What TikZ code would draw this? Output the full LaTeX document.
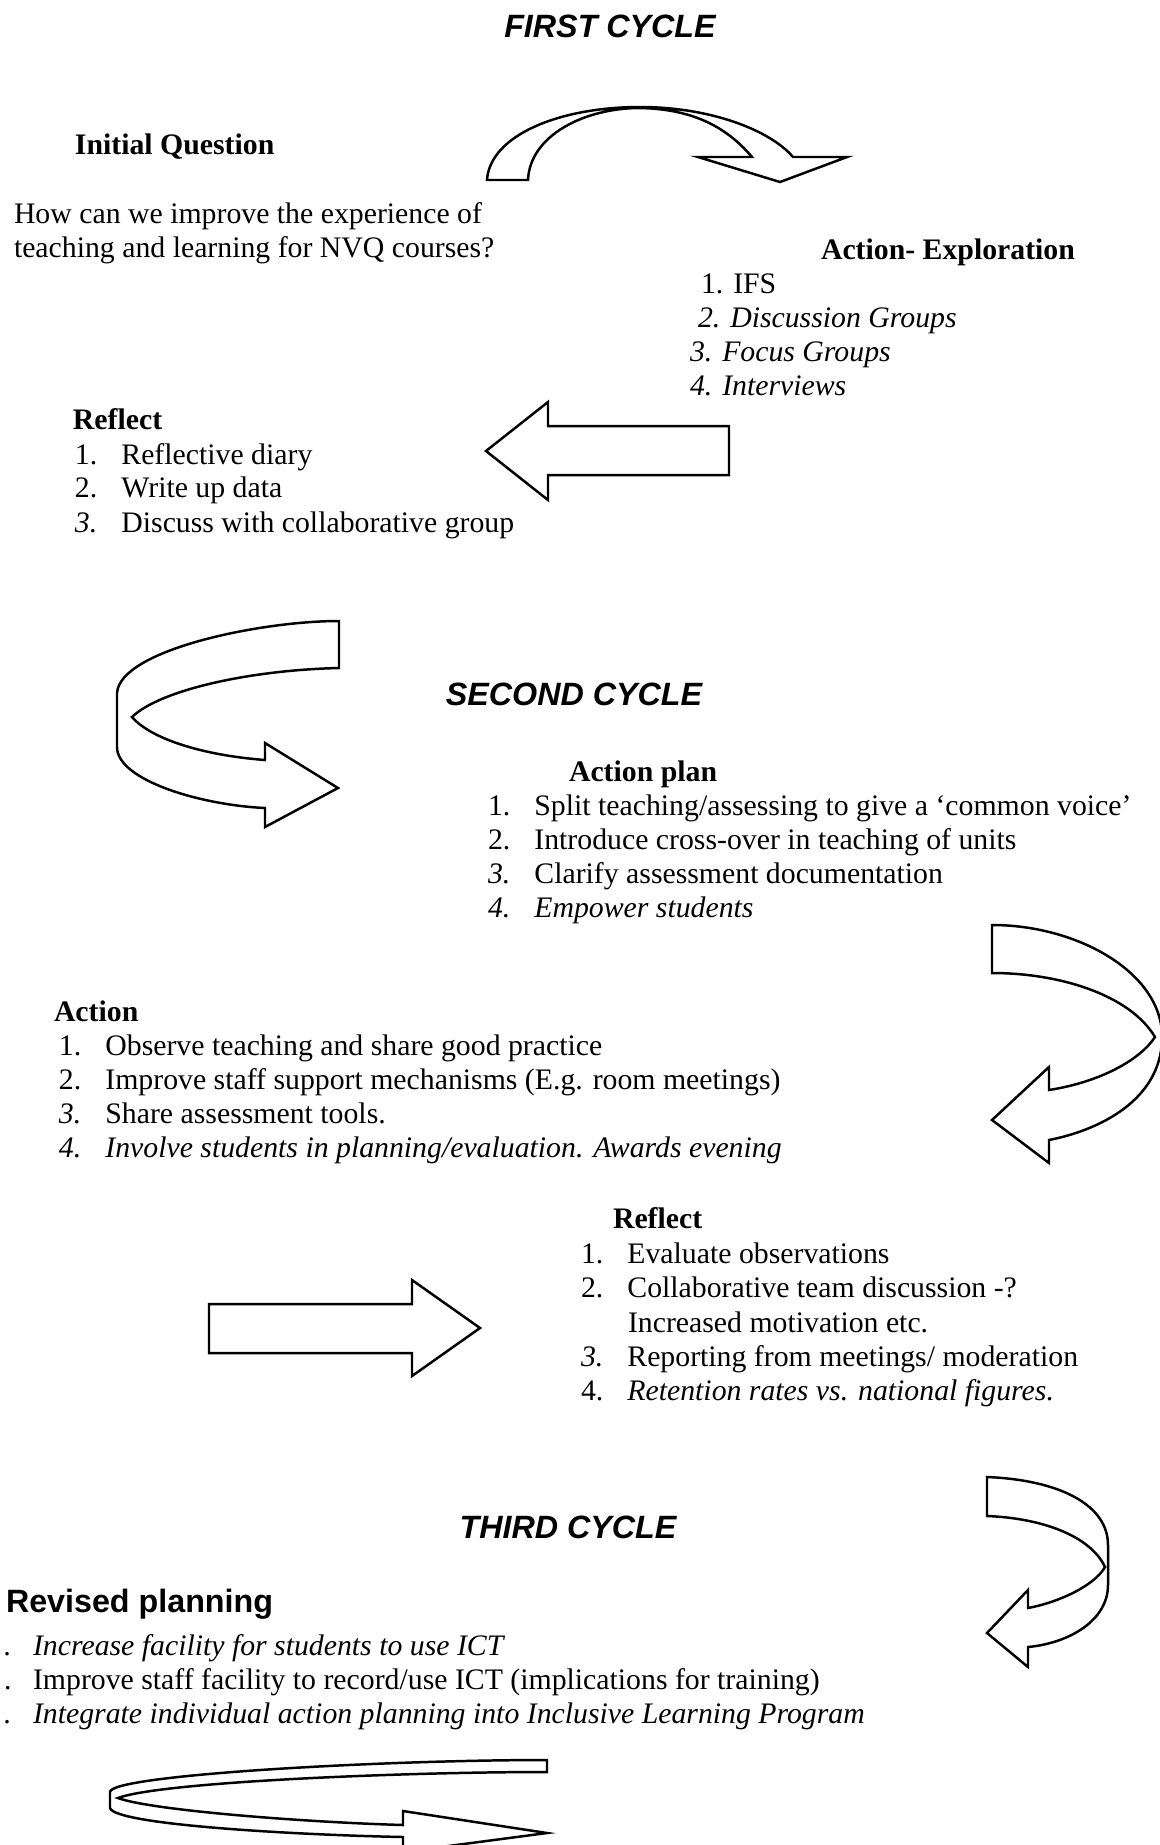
\documentclass[tikz,border=0pt]{standalone}
\usepackage{fontspec}
\setmainfont{Liberation Serif}
\newfontfamily\headfont{Liberation Sans}
\newcommand{\nb}[1]{\makebox[18.7pt][l]{#1}}
\newcommand{\nd}[1]{\makebox[11.7pt][l]{#1}}
\begin{document}
\begin{tikzpicture}[x=0.403pt, y=-0.403pt, line cap=round, line join=round,
    txt/.style={anchor=base west, inner sep=0pt, outer sep=0pt, font=\fontsize{12}{14}\selectfont},
    hd/.style={txt, font=\fontsize{12}{14}\selectfont\bfseries},
    cyc/.style={anchor=base, inner sep=0pt, font=\headfont\fontsize{13}{15}\selectfont\bfseries\itshape},
    blk/.style={draw, fill=white, line width=1pt, line join=miter}]
  \useasboundingbox (0,0) rectangle (1160,1845);
  % first cycle
  \node[cyc] (c1) at (610,37) {FIRST CYCLE};
  \node[hd] (iq) at (75,154) {Initial Question};
  \node[txt] (iq1) at (14,223) {How can we improve the experience of};
  \node[txt] (iq2) at (14,257) {teaching and learning for NVQ courses?};
  \node[hd] (ae) at (821,259) {Action- Exploration};
  \node[txt] (ae1) at (701,293) {1. IFS};
  \node[txt] (ae2) at (698,327) {\itshape 2. Discussion Groups};
  \node[txt] (ae3) at (690,361) {\itshape 3. Focus Groups};
  \node[txt] (ae4) at (690,395) {\itshape 4. Interviews};
  \node[hd] (rf) at (73,429) {Reflect};
  \node[txt] (rf1) at (75,464) {\nb{1.}Reflective diary};
  \node[txt] (rf2) at (75,497) {\nb{2.}Write up data};
  \node[txt] (rf3) at (75,532) {\nb{\itshape 3.}Discuss with collaborative group};
  \draw[blk] (487,180) .. controls (490,135) and (560,107) .. (640,107)
    .. controls (710,107) and (770,130) .. (793,157) -- (847,157) -- (780,182)
    -- (698,157) -- (752,157) .. controls (725,125) and (690,109) .. (640,108)
    .. controls (585,108) and (530,135) .. (528,180) -- cycle;
  \draw[blk] (729,426) -- (548,426) -- (548,402) -- (486,451) -- (548,500)
    -- (548,475) -- (729,475) -- cycle;
  % second cycle
  \draw[blk] (339,621) .. controls (260,621) and (120,650) .. (117,693) -- (117,747)
    .. controls (117,780) and (200,805) .. (265,808) -- (265,827) -- (338,788)
    -- (265,743) -- (265,760) .. controls (200,755) and (150,738) .. (132,717)
    .. controls (160,690) and (250,670) .. (339,668) -- cycle;
  \node[cyc] (c2) at (574,705) {SECOND CYCLE};
  \node[hd] (ap) at (569,781) {Action plan};
  \node[txt] (ap1) at (488,815) {\nb{1.}Split teaching/assessing to give a ‘common voice’};
  \node[txt] (ap2) at (488,849) {\nb{2.}Introduce cross-over in teaching of units};
  \node[txt] (ap3) at (488,883) {\nb{\itshape 3.}Clarify assessment documentation};
  \node[txt] (ap4) at (488,917) {\itshape\nb{4.}Empower students};
  \draw[blk] (992,925) .. controls (1080,925) and (1165,975) .. (1162,1040)
    .. controls (1160,1100) and (1100,1130) .. (1049,1140) -- (1049,1163)
    -- (992,1120) -- (1049,1067) -- (1049,1090)
    .. controls (1100,1082) and (1140,1060) .. (1155,1037)
    .. controls (1130,995) and (1060,973) .. (992,973) -- cycle;
  \node[hd] (ac) at (54,1021) {Action};
  \node[txt] (ac1) at (59,1055) {\nb{1.}Observe teaching and share good practice};
  \node[txt] (ac2) at (59,1089) {\nb{2.}Improve staff support mechanisms (E.g. room meetings)};
  \node[txt] (ac3) at (59,1123) {\nb{\itshape 3.}Share assessment tools.};
  \node[txt] (ac4) at (59,1157) {\itshape\nb{4.}Involve students in planning/evaluation. Awards evening};
  \node[hd] (rs) at (613,1228) {Reflect};
  \node[txt] (rs1) at (581,1263) {\nb{1.}Evaluate observations};
  \node[txt] (rs2) at (581,1297) {\nb{2.}Collaborative team discussion -?};
  \node[txt] (rs2b) at (628,1332) {Increased motivation etc.};
  \node[txt] (rs3) at (581,1366) {\nb{\itshape 3.}Reporting from meetings/ moderation};
  \node[txt] (rs4) at (581,1400) {\nb{4.}\itshape Retention rates vs. national figures.};
  \draw[blk] (209,1304) -- (412,1304) -- (412,1280) -- (480,1328) -- (412,1376)
    -- (412,1353) -- (209,1353) -- cycle;
  % third cycle
  \draw[blk] (987,1477) .. controls (1060,1480) and (1108,1505) .. (1108,1545) -- (1108,1585)
    .. controls (1108,1620) and (1070,1643) .. (1028,1647) -- (1028,1667) -- (987,1633)
    -- (1028,1590) -- (1028,1608) .. controls (1060,1602) and (1095,1585) .. (1105,1567)
    .. controls (1090,1535) and (1040,1518) .. (987,1516) -- cycle;
  \node[cyc] (c3) at (568,1538) {THIRD CYCLE};
  \node[txt, font=\headfont\fontsize{13}{15}\selectfont\bfseries] (rp) at (6,1612) {Revised planning};
  \node[txt] (rp1) at (4,1655) {\itshape\nd{.}Increase facility for students to use ICT};
  \node[txt] (rp2) at (4,1689) {\nd{.}Improve staff facility to record/use ICT (implications for training)};
  \node[txt] (rp3) at (4,1723) {\itshape\nd{.}Integrate individual action planning into Inclusive Learning Program};
  \draw[blk] (547,1760) .. controls (380,1760) and (110,1775) .. (110,1792) -- (110,1808)
    .. controls (115,1825) and (300,1835) .. (403,1837) -- (403,1852) -- (547,1833)
    -- (403,1811) -- (403,1825) .. controls (300,1822) and (150,1810) .. (118,1798)
    .. controls (160,1782) and (400,1772) .. (547,1772) -- cycle;
\end{tikzpicture}
\end{document}
